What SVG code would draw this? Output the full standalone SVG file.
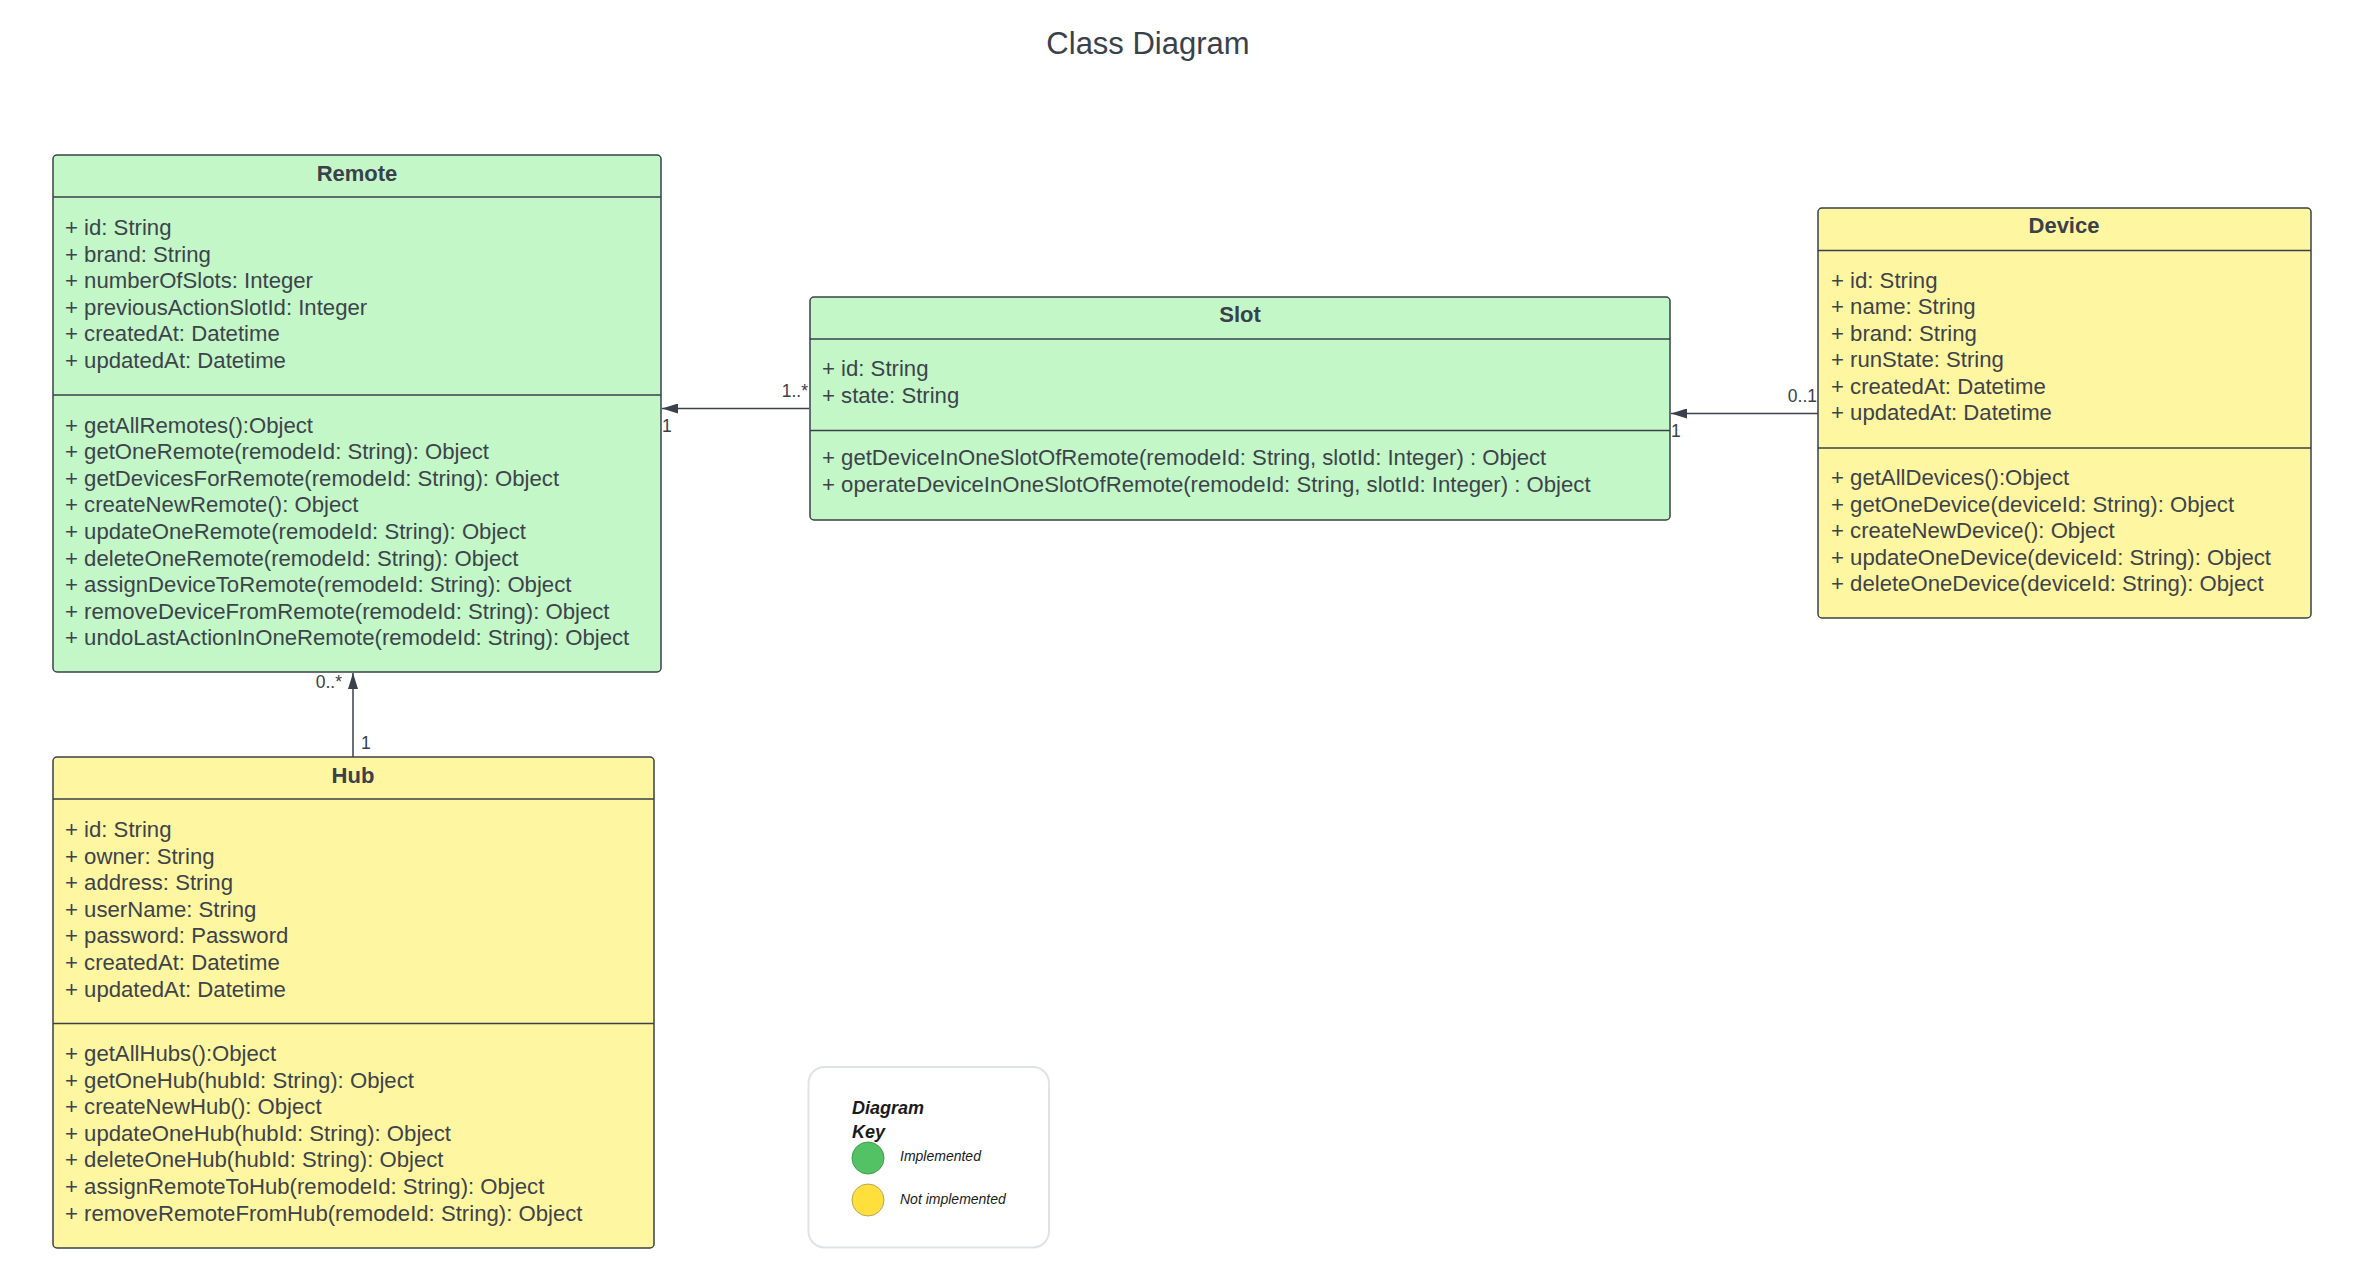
<svg xmlns="http://www.w3.org/2000/svg" width="2361" height="1288" viewBox="0 0 2361 1288">
<style>
.box{stroke:#3a414a;stroke-width:1.5}
.g{fill:#c3f7c8}
.y{fill:#fff6a1}
.div{stroke:#3a414a;stroke-width:1.5}
.hd{font-family:"Liberation Sans",Arial,sans-serif;font-size:22px;font-weight:bold;fill:#3a414a;text-anchor:middle}
.tx{font-family:"Liberation Sans",Arial,sans-serif;font-size:22.15px;fill:#3d434b}
.lb{font-family:"Liberation Sans",Arial,sans-serif;font-size:17.5px;fill:#3a414a}
.ln{stroke:#3a414a;stroke-width:1.5;fill:none}
</style>
<defs>
<marker id="ah" markerWidth="16" markerHeight="10" refX="16" refY="5" orient="auto" markerUnits="userSpaceOnUse">
<path d="M0,0 L16,5 L0,10 Z" fill="#3a414a"/>
</marker>
</defs>
<rect width="2361" height="1288" fill="#ffffff"/>
<text x="1148" y="54" font-family="Liberation Sans,Arial,sans-serif" font-size="31" fill="#3a414a" text-anchor="middle">Class Diagram</text>

<g id="connectors">
<line class="ln" x1="809" y1="408.5" x2="662" y2="408.5" marker-end="url(#ah)"/>
<text class="lb" x="808" y="397" text-anchor="end">1..*</text>
<text class="lb" x="662" y="432">1</text>
<line class="ln" x1="1818" y1="413.5" x2="1671" y2="413.5" marker-end="url(#ah)"/>
<text class="lb" x="1817" y="402" text-anchor="end">0..1</text>
<text class="lb" x="1671" y="437">1</text>
<line class="ln" x1="353" y1="757" x2="353" y2="673" marker-end="url(#ah)"/>
<text class="lb" x="342" y="688" text-anchor="end">0..*</text>
<text class="lb" x="361" y="749">1</text>
</g>

<g id="remote">
<rect class="box g" x="53" y="155" width="608" height="517" rx="4"/>
<line class="div" x1="53" y1="197" x2="661" y2="197"/>
<line class="div" x1="53" y1="395" x2="661" y2="395"/>
<text class="hd" x="357" y="181">Remote</text>
<text class="tx"><tspan x="65" y="235">+ id: String</tspan><tspan x="65" dy="26.6">+ brand: String</tspan><tspan x="65" dy="26.6">+ numberOfSlots: Integer</tspan><tspan x="65" dy="26.6">+ previousActionSlotId: Integer</tspan><tspan x="65" dy="26.6">+ createdAt: Datetime</tspan><tspan x="65" dy="26.6">+ updatedAt: Datetime</tspan></text>
<text class="tx"><tspan x="65" y="432.5">+ getAllRemotes():Object</tspan><tspan x="65" dy="26.6">+ getOneRemote(remodeId: String): Object</tspan><tspan x="65" dy="26.6">+ getDevicesForRemote(remodeId: String): Object</tspan><tspan x="65" dy="26.6">+ createNewRemote(): Object</tspan><tspan x="65" dy="26.6">+ updateOneRemote(remodeId: String): Object</tspan><tspan x="65" dy="26.6">+ deleteOneRemote(remodeId: String): Object</tspan><tspan x="65" dy="26.6">+ assignDeviceToRemote(remodeId: String): Object</tspan><tspan x="65" dy="26.6">+ removeDeviceFromRemote(remodeId: String): Object</tspan><tspan x="65" dy="26.6">+ undoLastActionInOneRemote(remodeId: String): Object</tspan></text>
</g>

<g id="slot">
<rect class="box g" x="810" y="297" width="860" height="223" rx="4"/>
<line class="div" x1="810" y1="339" x2="1670" y2="339"/>
<line class="div" x1="810" y1="430.5" x2="1670" y2="430.5"/>
<text class="hd" x="1240" y="322">Slot</text>
<text class="tx"><tspan x="822" y="376">+ id: String</tspan><tspan x="822" dy="26.6">+ state: String</tspan></text>
<text class="tx"><tspan x="822" y="465">+ getDeviceInOneSlotOfRemote(remodeId: String, slotId: Integer) : Object</tspan><tspan x="822" dy="26.6">+ operateDeviceInOneSlotOfRemote(remodeId: String, slotId: Integer) : Object</tspan></text>
</g>

<g id="device">
<rect class="box y" x="1818" y="208" width="493" height="410" rx="4"/>
<line class="div" x1="1818" y1="250.5" x2="2311" y2="250.5"/>
<line class="div" x1="1818" y1="448" x2="2311" y2="448"/>
<text class="hd" x="2064" y="233">Device</text>
<text class="tx"><tspan x="1831" y="287.5">+ id: String</tspan><tspan x="1831" dy="26.5">+ name: String</tspan><tspan x="1831" dy="26.5">+ brand: String</tspan><tspan x="1831" dy="26.5">+ runState: String</tspan><tspan x="1831" dy="26.5">+ createdAt: Datetime</tspan><tspan x="1831" dy="26.5">+ updatedAt: Datetime</tspan></text>
<text class="tx"><tspan x="1831" y="485">+ getAllDevices():Object</tspan><tspan x="1831" dy="26.5">+ getOneDevice(deviceId: String): Object</tspan><tspan x="1831" dy="26.5">+ createNewDevice(): Object</tspan><tspan x="1831" dy="26.5">+ updateOneDevice(deviceId: String): Object</tspan><tspan x="1831" dy="26.5">+ deleteOneDevice(deviceId: String): Object</tspan></text>
</g>

<g id="hub">
<rect class="box y" x="53" y="757" width="601" height="491" rx="4"/>
<line class="div" x1="53" y1="799" x2="654" y2="799"/>
<line class="div" x1="53" y1="1023.5" x2="654" y2="1023.5"/>
<text class="hd" x="353" y="783">Hub</text>
<text class="tx"><tspan x="65" y="837">+ id: String</tspan><tspan x="65" dy="26.6">+ owner: String</tspan><tspan x="65" dy="26.6">+ address: String</tspan><tspan x="65" dy="26.6">+ userName: String</tspan><tspan x="65" dy="26.6">+ password: Password</tspan><tspan x="65" dy="26.6">+ createdAt: Datetime</tspan><tspan x="65" dy="26.6">+ updatedAt: Datetime</tspan></text>
<text class="tx"><tspan x="65" y="1061">+ getAllHubs():Object</tspan><tspan x="65" dy="26.6">+ getOneHub(hubId: String): Object</tspan><tspan x="65" dy="26.6">+ createNewHub(): Object</tspan><tspan x="65" dy="26.6">+ updateOneHub(hubId: String): Object</tspan><tspan x="65" dy="26.6">+ deleteOneHub(hubId: String): Object</tspan><tspan x="65" dy="26.6">+ assignRemoteToHub(remodeId: String): Object</tspan><tspan x="65" dy="26.6">+ removeRemoteFromHub(remodeId: String): Object</tspan></text>
</g>

<g id="legend">
<rect x="808.5" y="1067" width="240.5" height="180.5" rx="16" fill="#ffffff" stroke="#dfe3e8" stroke-width="2"/>
<text font-family="Liberation Sans,Arial,sans-serif" font-size="18" font-weight="bold" font-style="italic" fill="#1a1a1a"><tspan x="852" y="1114">Diagram</tspan><tspan x="852" y="1138">Key</tspan></text>
<circle cx="868" cy="1158" r="16" fill="#52c264" stroke="#3f9e4e" stroke-width="1"/>
<circle cx="868" cy="1200" r="16" fill="#ffdf3c" stroke="#b5a65a" stroke-width="1"/>
<text x="900" y="1161" font-family="Liberation Sans,Arial,sans-serif" font-size="14" font-style="italic" fill="#1a1a1a">Implemented</text>
<text x="900" y="1203.5" font-family="Liberation Sans,Arial,sans-serif" font-size="14" font-style="italic" fill="#1a1a1a">Not implemented</text>
</g>
</svg>
